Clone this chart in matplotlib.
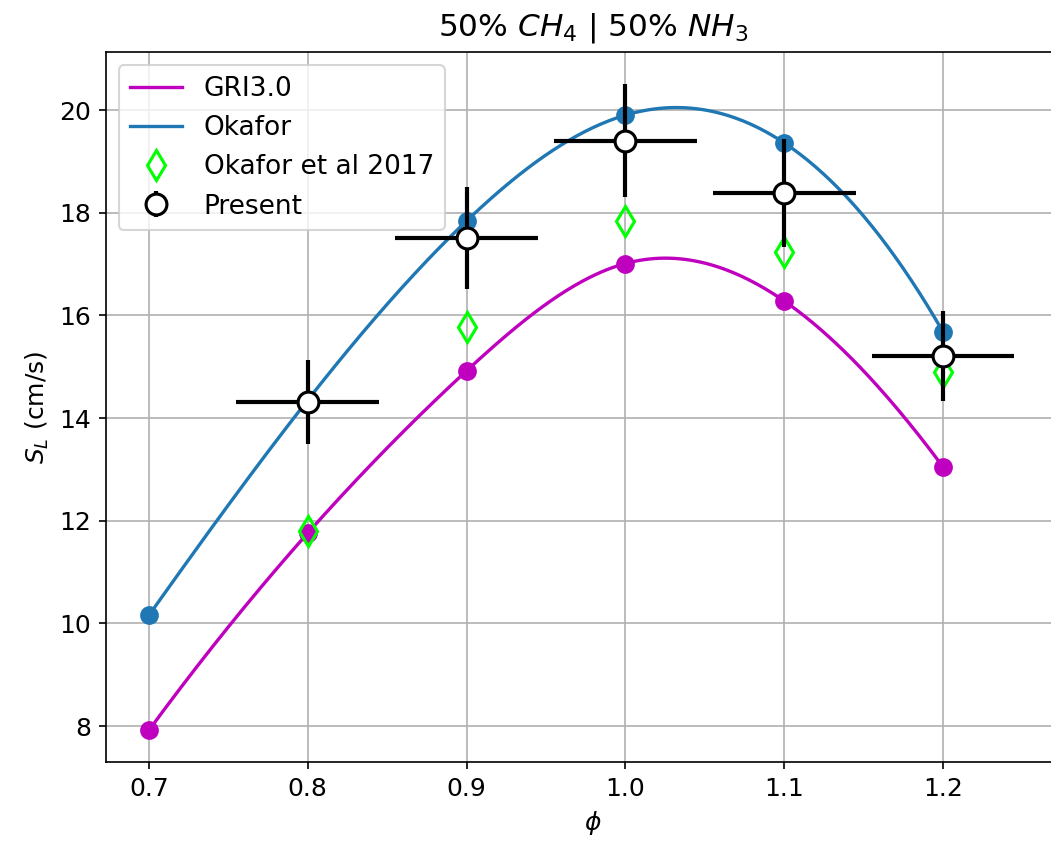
import numpy as np
import matplotlib
matplotlib.use("Agg")
import matplotlib.pyplot as plt

# ---- data ----
phi = [0.7, 0.8, 0.9, 1.0, 1.1, 1.2]
gri30 = [7.92, 11.76, 14.92, 17.01, 16.28, 13.05]
okafor = [10.16, 14.35, 17.84, 19.90, 19.36, 15.68]

phi_exp = [0.8, 0.9, 1.0, 1.1, 1.2]
okafor2017 = [11.80, 15.78, 17.84, 17.24, 14.90]

present = [14.31, 17.51, 19.40, 18.39, 15.21]
present_yerr = [0.82, 1.00, 1.10, 1.05, 0.87]
present_xerr = [0.045, 0.045, 0.045, 0.045, 0.045]


def notaknot_spline(x, y, xs):
    x = np.asarray(x, float)
    y = np.asarray(y, float)
    n = len(x)
    m = n - 1
    A = np.zeros((4 * m, 4 * m))
    b = np.zeros(4 * m)
    r = 0
    for i in range(m):
        h = x[i + 1] - x[i]
        A[r, 4 * i] = 1; b[r] = y[i]; r += 1
        A[r, 4 * i:4 * i + 4] = [1, h, h ** 2, h ** 3]; b[r] = y[i + 1]; r += 1
    for i in range(m - 1):
        h = x[i + 1] - x[i]
        A[r, 4 * i:4 * i + 4] = [0, 1, 2 * h, 3 * h ** 2]
        A[r, 4 * (i + 1) + 1] = -1; r += 1
        A[r, 4 * i:4 * i + 4] = [0, 0, 2, 6 * h]
        A[r, 4 * (i + 1) + 2] = -2; r += 1
    for i in (0, m - 2):
        A[r, 4 * i + 3] = 1
        A[r, 4 * (i + 1) + 3] = -1; r += 1
    coef = np.linalg.solve(A, b).reshape(m, 4)
    idx = np.clip(np.searchsorted(x, xs) - 1, 0, m - 1)
    t = xs - x[idx]
    c = coef[idx]
    return c[:, 0] + c[:, 1] * t + c[:, 2] * t ** 2 + c[:, 3] * t ** 3


xs = np.linspace(min(phi), max(phi), 300)

fig = plt.figure(figsize=(1051 / 150, 847 / 150), dpi=150)
# axes extends past the right edge of the figure (right spine cropped, as in reference)
ax = fig.add_axes([105.7 / 1051, 85 / 847, 975 / 1051, 710 / 847])

l1, = ax.plot(xs, notaknot_spline(phi, gri30, xs), color='m', lw=1.6, label='GRI3.0')
l2, = ax.plot(xs, notaknot_spline(phi, okafor, xs), color='tab:blue', lw=1.6, label='Okafor')
ax.plot(phi, gri30, 'o', color='m', ms=8)
ax.plot(phi, okafor, 'o', color='tab:blue', ms=8)
l3, = ax.plot(phi_exp, okafor2017, 'd', mfc='none', mec='#00ff00', ms=10, mew=1.5,
              label='Okafor et al 2017')
ax.errorbar(phi_exp, present, xerr=present_xerr, fmt='none', ecolor='k', elinewidth=2, zorder=4)
e4 = ax.errorbar(phi_exp, present, yerr=present_yerr, fmt='o', color='k', mfc='white', mec='k',
                 ms=10, mew=1.5, ecolor='k', elinewidth=2, zorder=5, label='Present')

ax.set_xlim(0.67275, 0.67275 + 975 / 1588)
ax.set_ylim(7.30, 21.13)
ax.set_xticks([0.7, 0.8, 0.9, 1.0, 1.1, 1.2])
ax.tick_params(labelsize=12)
ax.set_xlabel(r'$\phi$', fontsize=12)
ax.set_ylabel(r'$S_L$ (cm/s)', fontsize=12)
ax.set_title(r'50% $CH_4$ | 50% $NH_3$', fontsize=15, pad=8)
ax.grid(True)
ax.legend(handles=[l1, l2, l3, e4], loc='upper left', fontsize=12.7)

fig.savefig('out.png', dpi=150)
